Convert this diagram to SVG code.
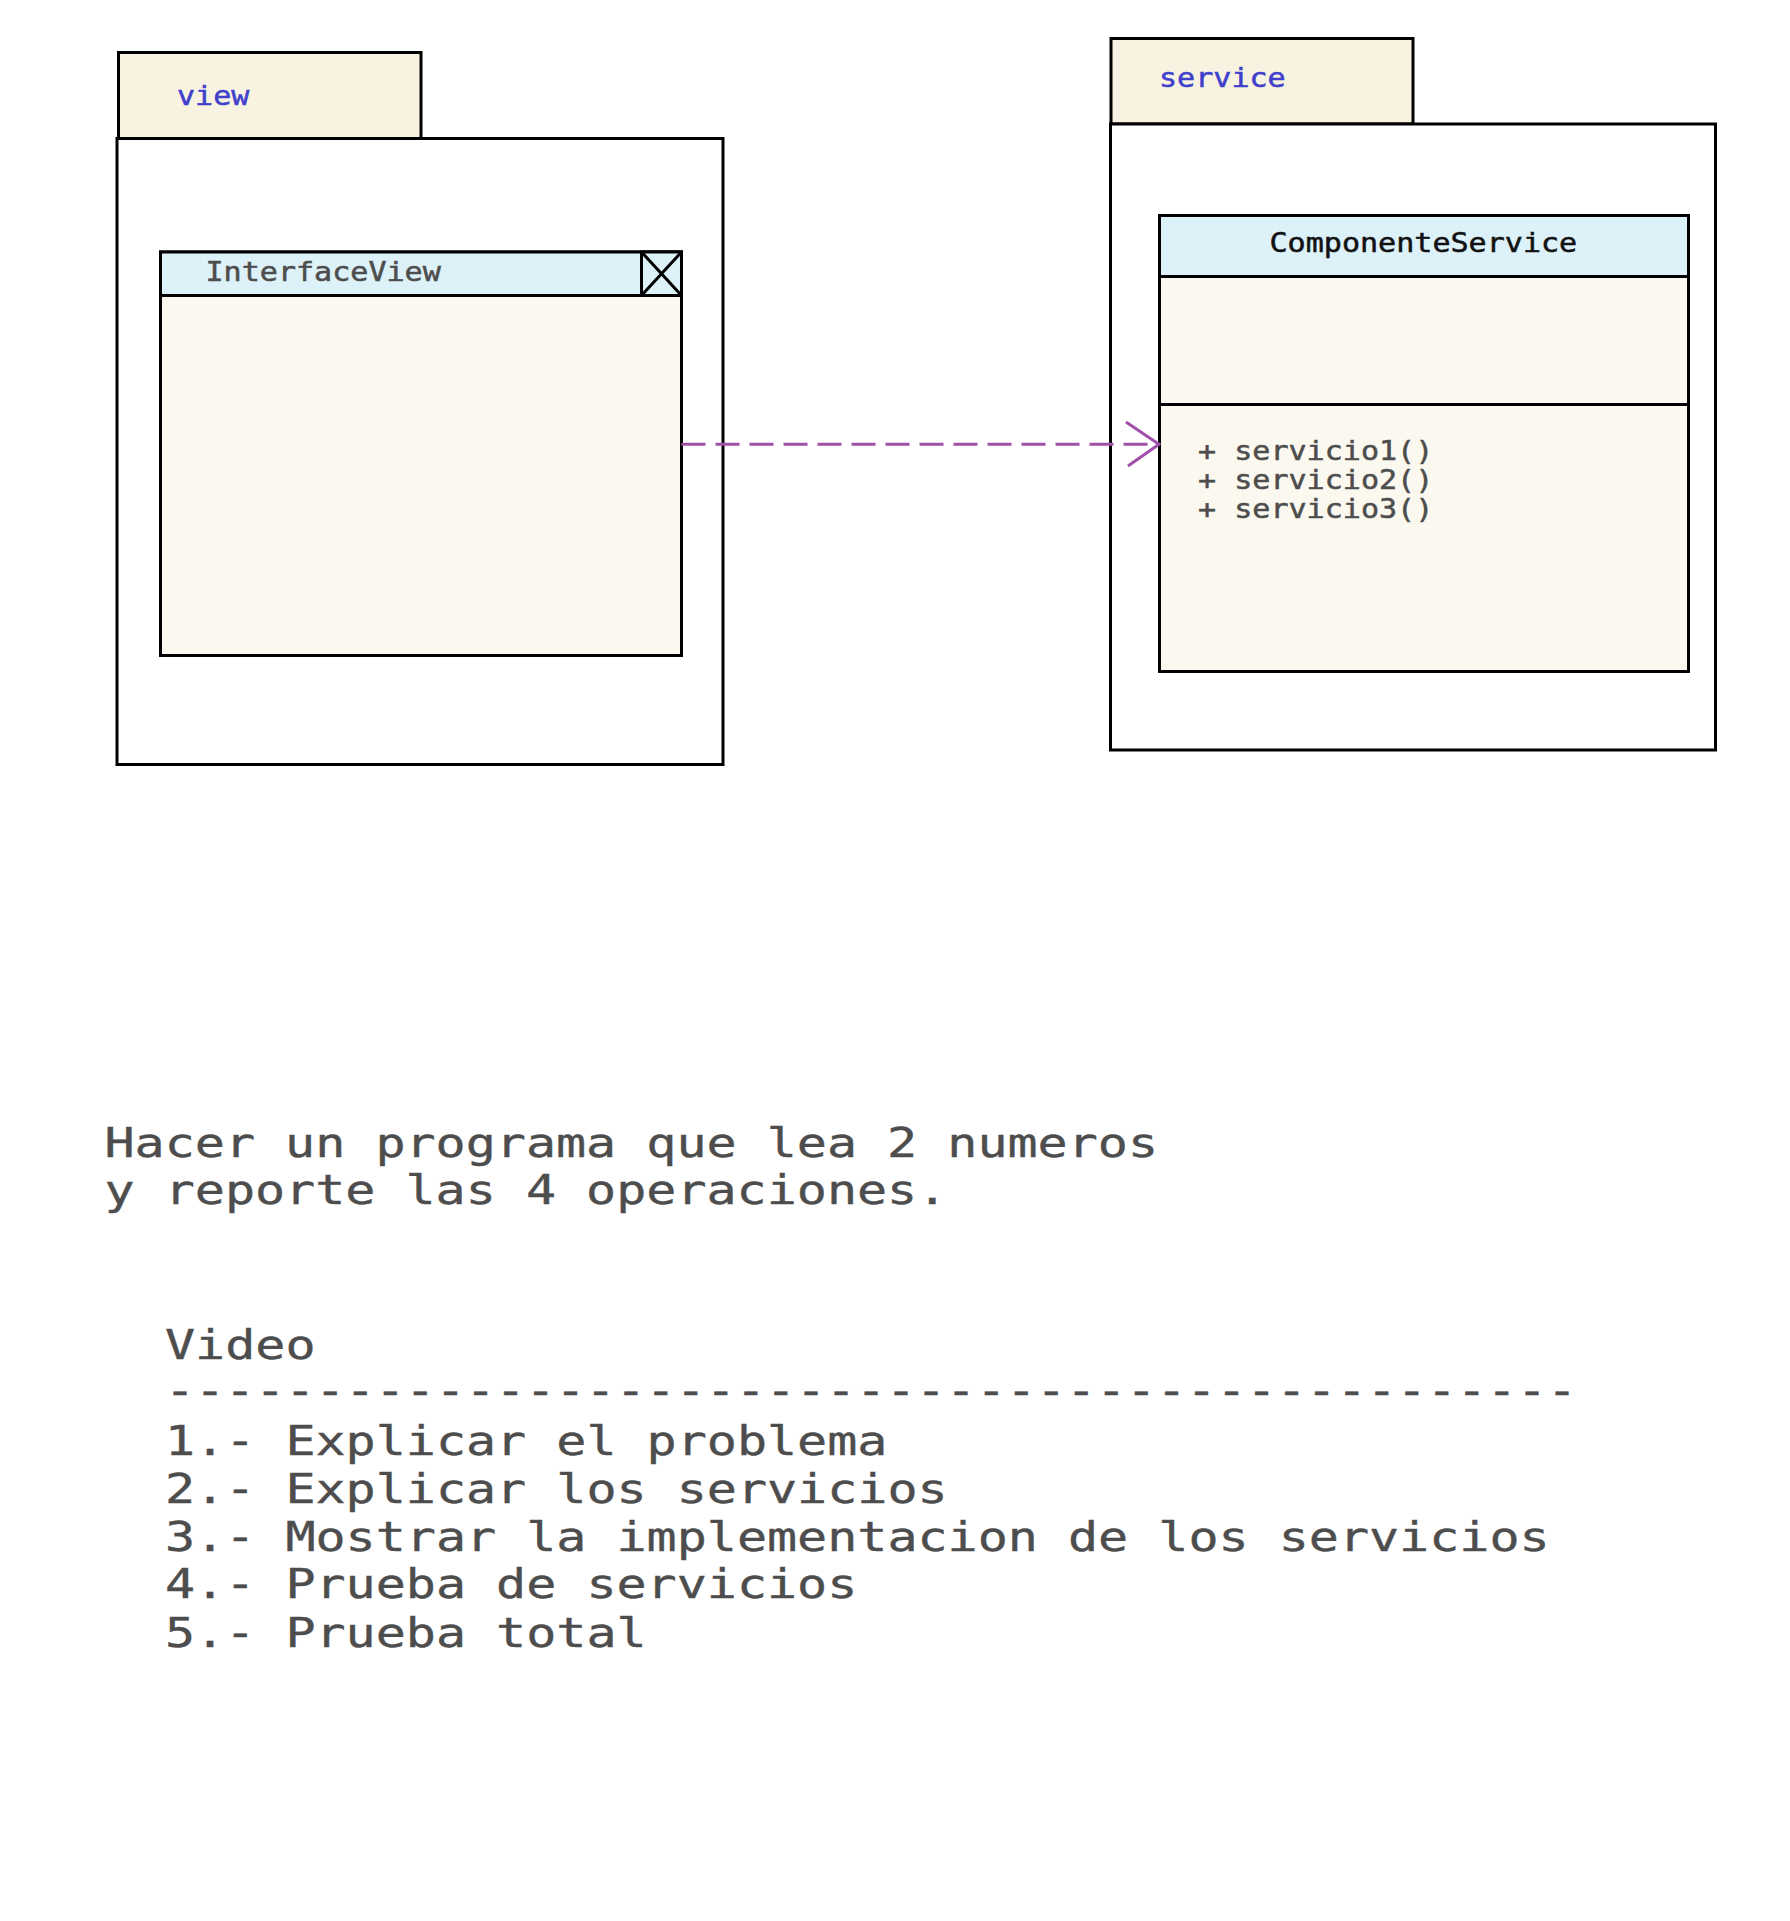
<svg xmlns="http://www.w3.org/2000/svg" width="1790" height="1921" viewBox="0 0 1790 1921">
<style>
.ln{stroke:#000;stroke-width:3;}
.tab{fill:#f8f3e1;}
.pkg{fill:#ffffff;}
.hdr{fill:#ddf1f8;}
.body{fill:#fbf9ef;}
.sm{font-family:"DejaVu Sans Mono","Liberation Mono",monospace;font-size:26px;stroke-width:0.5;}
.lg{font-family:"DejaVu Sans Mono","Liberation Mono",monospace;font-size:40px;fill:#4d4d4d;stroke:#4d4d4d;stroke-width:0.4;}
.pname{fill:#4040cc;stroke:#4040cc;}
.gray{fill:#4d4d4d;stroke:#4d4d4d;}
.blk{fill:#111111;stroke:#111111;}
.dep{fill:none;stroke:#a050a8;stroke-width:3;}
</style>
<rect width="1790" height="1921" fill="#ffffff"/>

<g id="pkg-view">
  <rect class="tab ln" x="118.5" y="52.5" width="302.5" height="86"/>
  <rect class="pkg ln" x="117" y="138.5" width="606" height="626"/>
  <text class="sm pname" x="177" y="105" textLength="72.4" lengthAdjust="spacingAndGlyphs">view</text>
</g>

<g id="class-InterfaceView">
  <rect class="body ln" x="160.5" y="252" width="521" height="403.5"/>
  <rect class="hdr ln" x="160.5" y="252" width="521" height="43.5"/>
  <rect class="hdr ln" x="641.5" y="252" width="40" height="43.5"/>
  <path class="ln" d="M641.5 252 L681.5 295.5 M681.5 252 L641.5 295.5" fill="none"/>
  <text class="sm gray" x="205.5" y="280.7" textLength="235.3" lengthAdjust="spacingAndGlyphs">InterfaceView</text>
</g>

<g id="pkg-service">
  <rect class="tab ln" x="1111" y="38.5" width="302" height="85.5"/>
  <rect class="pkg ln" x="1110.5" y="124" width="605" height="626"/>
  <text class="sm pname" x="1159" y="87.3" textLength="126.7" lengthAdjust="spacingAndGlyphs">service</text>
</g>

<g id="class-ComponenteService">
  <rect class="body ln" x="1159.5" y="215.5" width="529" height="456"/>
  <rect class="hdr ln" x="1159.5" y="215.5" width="529" height="61"/>
  <line class="ln" x1="1159.5" y1="404.5" x2="1688.5" y2="404.5"/>
  <text class="sm blk" x="1269.5" y="251.7" textLength="307.7" lengthAdjust="spacingAndGlyphs">ComponenteService</text>
  <text class="sm gray" x="1198" y="460" textLength="235.3" lengthAdjust="spacingAndGlyphs">+ servicio1()</text>
  <text class="sm gray" x="1198" y="489" textLength="235.3" lengthAdjust="spacingAndGlyphs">+ servicio2()</text>
  <text class="sm gray" x="1198" y="517.7" textLength="235.3" lengthAdjust="spacingAndGlyphs">+ servicio3()</text>
</g>

<g id="connectors">
  <line class="dep" x1="681.5" y1="444.3" x2="1158" y2="444.3" stroke-dasharray="24 10"/>
  <path class="dep" d="M1126 422 L1159 444.3 L1128 466"/>
</g>

<g id="notes">
  <text class="lg" x="104.5" y="1156.7" textLength="1053.5" lengthAdjust="spacingAndGlyphs">Hacer un programa que lea 2 numeros</text>
  <text class="lg" x="104.5" y="1204.3" textLength="842.8" lengthAdjust="spacingAndGlyphs">y reporte las 4 operaciones.</text>
  <text class="lg" x="165" y="1359.3" textLength="150.5" lengthAdjust="spacingAndGlyphs">Video</text>
  <text class="lg" x="165" y="1405" textLength="1412" lengthAdjust="spacingAndGlyphs">-----------------------------------------------</text>
  <text class="lg" x="165" y="1455" textLength="722.4" lengthAdjust="spacingAndGlyphs">1.- Explicar el problema</text>
  <text class="lg" x="165" y="1502.7" textLength="782.6" lengthAdjust="spacingAndGlyphs">2.- Explicar los servicios</text>
  <text class="lg" x="165" y="1550.7" textLength="1384.6" lengthAdjust="spacingAndGlyphs">3.- Mostrar la implementacion de los servicios</text>
  <text class="lg" x="165" y="1598.3" textLength="692.3" lengthAdjust="spacingAndGlyphs">4.- Prueba de servicios</text>
  <text class="lg" x="165" y="1646.7" textLength="481.6" lengthAdjust="spacingAndGlyphs">5.- Prueba total</text>
</g>
</svg>
